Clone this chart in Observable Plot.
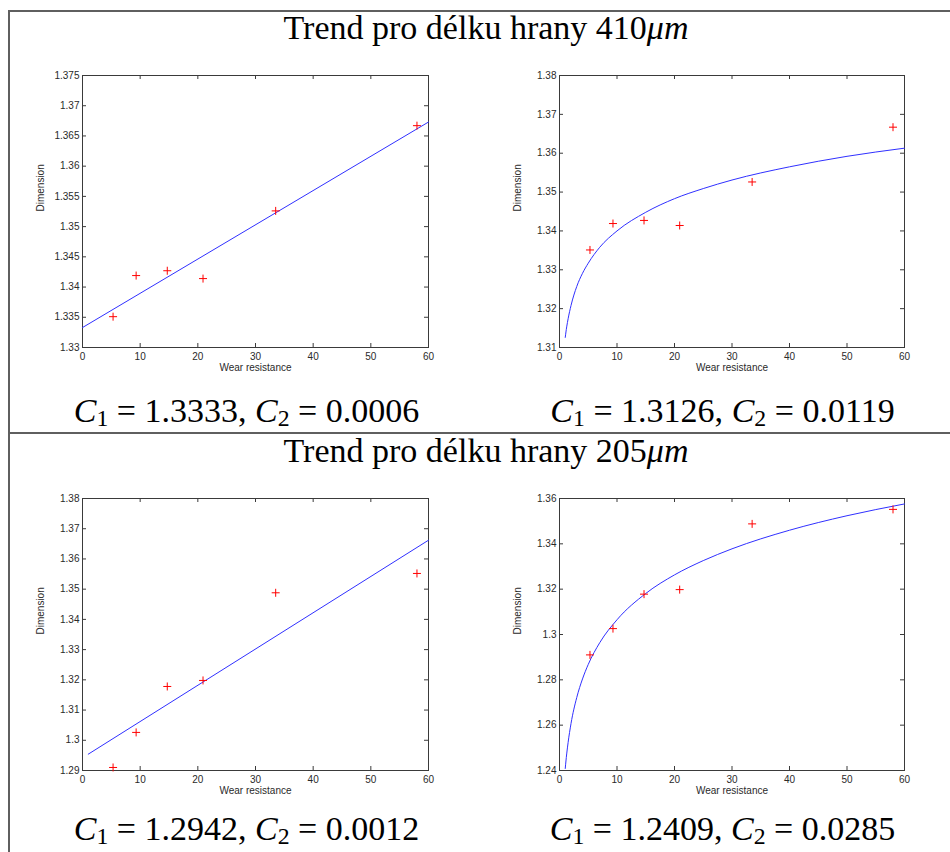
<!DOCTYPE html>
<html>
<head>
<meta charset="utf-8">
<script src="https://cdn.jsdelivr.net/npm/d3@7"></script>
<script src="https://cdn.jsdelivr.net/npm/@observablehq/plot@0.6"></script>
<style>
  html, body { margin: 0; padding: 0; background: #fff; }
  #page { position: relative; width: 950px; height: 852px; overflow: hidden; background: #fff; }
  .hline, .vline { position: absolute; background: #5f5f5f; }
  .tex { position: absolute; font-family: "Liberation Serif", "Times New Roman", serif; font-size: 34px;
         line-height: 34px; height: 34px; white-space: nowrap; text-align: center; color: #000; }
  .tex i, .tex sub { font-family: "Liberation Serif", "Times New Roman", serif; }
  .tex sub { font-size: 0.7em; vertical-align: baseline; position: relative; top: 0.18em; }
  .chart { position: absolute; }
</style>
</head>
<body>
<div id="page">
  <div class="hline" style="left:8px; top:10px; width:942px; height:2px;"></div>
  <div class="vline" style="left:7.5px; top:10px; width:2px; height:842px;"></div>
  <div class="hline" style="left:8px; top:432px; width:942px; height:2px;"></div>

  <div class="tex" id="title1" style="left:0px; top:10.5px; width:972px;"></div>
  <div class="tex" id="cap1" style="left:0px; top:394.2px; width:493px;"></div>
  <div class="tex" id="cap2" style="left:475px; top:394.2px; width:495px;"></div>
  <div class="tex" id="title2" style="left:0px; top:433.5px; width:972px;"></div>
  <div class="tex" id="cap3" style="left:0px; top:812px; width:493px;"></div>
  <div class="tex" id="cap4" style="left:475px; top:812px; width:495px;"></div>
</div>
<script>
// ---- data ----
const edgeLengths = ["410", "205"];
const wearX = [5.3, 9.3, 14.7, 20.9, 33.5, 58.0];
const dim410 = [1.3351, 1.3419, 1.3427, 1.3414, 1.3526, 1.3667];
const dim205 = [1.2910, 1.3026, 1.3178, 1.3198, 1.3488, 1.3552];

// fitted trend lines (as drawn)
const lin410X = [0, 60];
const lin410Y = [1.3333, 1.3673];
const lin205X = [1, 60];
const lin205Y = [1.2954, 1.3662];
const logX = [1, 1.25, 1.5, 2, 3, 4, 5, 7, 10, 15, 20, 25, 30, 40, 50, 60];
const log410Y = [1.3126, 1.3153, 1.3174, 1.3208, 1.3257, 1.3291, 1.3317, 1.3358, 1.3400, 1.3448, 1.3483, 1.3509, 1.3531, 1.3565, 1.3592, 1.3613];
const log205Y = [1.2409, 1.2473, 1.2524, 1.2607, 1.2722, 1.2804, 1.2868, 1.2964, 1.3065, 1.3181, 1.3263, 1.3326, 1.3378, 1.3460, 1.3524, 1.3576];

// coefficients shown in captions
const coef = [
  ["1.3333", "0.0006"],
  ["1.3126", "0.0119"],
  ["1.2942", "0.0012"],
  ["1.2409", "0.0285"]
];

// tick labels
const xTicks = [0, 10, 20, 30, 40, 50, 60];
const yTicksA = [1.33, 1.335, 1.34, 1.345, 1.35, 1.355, 1.36, 1.365, 1.37, 1.375];
const yTicksB = [1.31, 1.32, 1.33, 1.34, 1.35, 1.36, 1.37, 1.38];
const yTicksC = [1.29, 1.3, 1.31, 1.32, 1.33, 1.34, 1.35, 1.36, 1.37, 1.38];
const yTicksD = [1.24, 1.26, 1.28, 1.3, 1.32, 1.34, 1.36];

const xLabel = "Wear resistance";
const yLabel = "Dimension";

// ---- text ----
document.getElementById("title1").innerHTML = `Trend pro délku hrany ${edgeLengths[0]}<i>μm</i>`;
document.getElementById("title2").innerHTML = `Trend pro délku hrany ${edgeLengths[1]}<i>μm</i>`;
["cap1", "cap2", "cap3", "cap4"].forEach((id, i) => {
  document.getElementById(id).innerHTML =
    `<i>C</i><sub>1</sub> = ${coef[i][0]}, <i>C</i><sub>2</sub> = ${coef[i][1]}`;
});

// ---- charts ----
const plusSymbol = {
  draw(ctx, size) {
    const r = Math.sqrt(size / Math.PI);
    ctx.moveTo(-r, 0); ctx.lineTo(r, 0);
    ctx.moveTo(0, -r); ctx.lineTo(0, r);
  }
};

function chart({yTicks, ys, fitX, fitY, curve, ml, mr}) {
  const W = 475, H = 330, mt = 15, mb = 43;
  const innerW = W - ml - mr, innerH = H - mt - mb;
  const pts = wearX.map((x, i) => ({wx: x, dv: ys[i]}));
  const fit = fitX.map((x, i) => ({wx: x, dv: fitY[i]}));
  const tk = "#3a3a3a";
  return Plot.plot({
    width: W, height: H,
    marginLeft: ml, marginRight: mr, marginTop: mt, marginBottom: mb,
    x: {domain: [xTicks[0], xTicks[xTicks.length - 1]], label: null},
    y: {domain: [yTicks[0], yTicks[yTicks.length - 1]], label: null},
    style: {fontFamily: "'Liberation Sans', Arial, sans-serif", fontSize: "10px", color: "#2a2a2a", background: "transparent", overflow: "visible"},
    marks: [
      Plot.ruleX(xTicks, {insetTop: innerH - 4, stroke: tk}),
      Plot.ruleX(xTicks, {insetBottom: innerH - 4, stroke: tk}),
      Plot.ruleY(yTicks, {insetRight: innerW - 4, stroke: tk}),
      Plot.ruleY(yTicks, {insetLeft: innerW - 4, stroke: tk}),
      Plot.frame({stroke: tk}),
      Plot.axisX(xTicks, {tickSize: 0, tickPadding: 5, tickFormat: d => String(d), label: null}),
      Plot.axisY(yTicks, {tickSize: 0, tickPadding: 3, tickFormat: d => String(d), label: null}),
      Plot.line(fit, {x: "wx", y: "dv", stroke: "#3030ff", strokeWidth: 1, curve}),
      Plot.dot(pts, {x: "wx", y: "dv", symbol: plusSymbol, r: 4, stroke: "#ff0000", fill: "none", strokeWidth: 1}),
      Plot.text([xLabel], {frameAnchor: "bottom", dy: 23}),
      Plot.text([yLabel], {frameAnchor: "left", dx: -42, rotate: -90})
    ]
  });
}

const page = document.getElementById("page");
const specs = [
  {left: 0,   top: 60,  yTicks: yTicksA, ys: dim410, fitX: lin410X, fitY: lin410Y, curve: "linear",     ml: 82, mr: 47},
  {left: 475, top: 60,  yTicks: yTicksB, ys: dim410, fitX: logX,    fitY: log410Y, curve: "monotone-x", ml: 84, mr: 46},
  {left: 0,   top: 483, yTicks: yTicksC, ys: dim205, fitX: lin205X, fitY: lin205Y, curve: "linear",     ml: 82, mr: 47},
  {left: 475, top: 483, yTicks: yTicksD, ys: dim205, fitX: logX,    fitY: log205Y, curve: "monotone-x", ml: 84, mr: 46}
];
specs.forEach(s => {
  const svg = chart(s);
  svg.classList.add("chart");
  svg.style.left = s.left + "px";
  svg.style.top = s.top + "px";
  page.appendChild(svg);
});
</script>
</body>
</html>
